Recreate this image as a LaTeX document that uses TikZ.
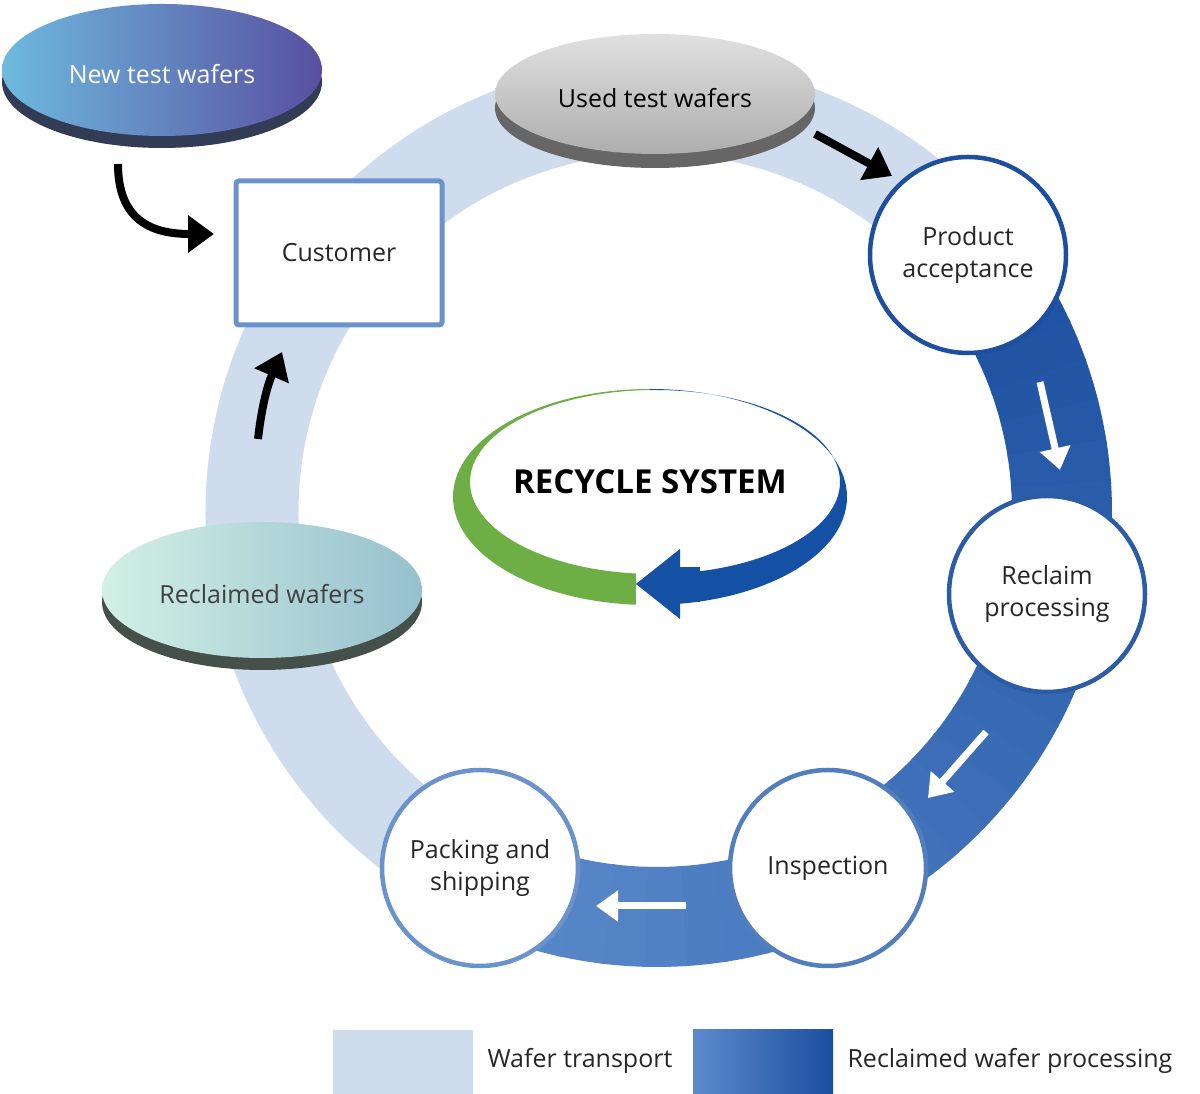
\documentclass[tikz,border=0pt]{standalone}
\usepackage{fontspec}
\setmainfont{Open Sans}
\usetikzlibrary{arrows.meta}
\definecolor{lightring}{HTML}{CFDCEE}
\definecolor{darkA}{HTML}{1A4FA0}
\definecolor{darkB}{HTML}{5C8ACB}
\definecolor{cborder}{HTML}{6A93CC}
\definecolor{pborder}{HTML}{1E4E9E}
\definecolor{rgreen}{HTML}{6DAE45}
\definecolor{rblue}{HTML}{1450A3}
\definecolor{nrim}{HTML}{333C55}
\definecolor{nA}{HTML}{6EB9DE}
\definecolor{nB}{HTML}{5850A0}
\definecolor{rrim}{HTML}{46504B}
\definecolor{rA}{HTML}{D2F0E4}
\definecolor{rB}{HTML}{96C0CE}
\tikzset{
  x=1pt,y=1pt,
  lbl/.style={font=\fontsize{25}{29}\selectfont, text=black!85, align=center},
  step/.style={circle, draw=#1, line width=4.5pt, fill=white, minimum size=196pt, lbl},
  blk/.style={line width=8pt, -{Triangle[length=26pt,width=36pt]}},
  wht/.style={line width=7pt, white, -{Triangle[length=22pt,width=30pt]}},
}
\begin{document}
\begin{tikzpicture}
\useasboundingbox (0,0) rectangle (1200,1094);
\coordinate (c) at (657,582);
% light ring
\draw[lightring, line width=93pt] (c) ++(39:405) arc[start angle=39, end angle=245, radius=405];
% dark ring gradient
\foreach \i in {0,...,29}{
  \pgfmathsetmacro{\aa}{41-\i*5.3}
  \pgfmathsetmacro{\ab}{\aa-5.8}
  \pgfmathsetmacro{\p}{100-\i*100/29}
  \draw[darkA!\p!darkB, line width=100pt] (c) ++(\aa:405) arc[start angle=\aa, end angle=\ab, radius=405];
}
% legend
\fill[lightring] (333,0) rectangle (473,64);
\shade[left color=darkB, right color=darkA] (693,0) rectangle (833,64);
\node[lbl, anchor=west] (lg1) at (484,33) {Wafer transport};
\node[lbl, anchor=west] (lg2) at (844,33) {Reclaimed wafer processing};
% customer
\node[draw=cborder, line width=5pt, fill=white, minimum width=206pt, minimum height=144pt, rounded corners=3pt, lbl] (cust) at (339,841) {Customer};
% circles
\node[step=pborder] (pa) at (968,839) {Product\\[3pt]acceptance};
\node[step=pborder!80!cborder] (rp) at (1047,500) {Reclaim\\[3pt]processing};
\node[step=cborder!70!pborder] (in) at (828,226) {Inspection};
\node[step=cborder] (ps) at (480,226) {Packing and\\[3pt]shipping};
% disks
\fill[black!60] (655,986) ellipse[x radius=160, y radius=60];
\shade[top color=black!12, bottom color=black!32] (655,1000) ellipse[x radius=160, y radius=60];
\node[lbl, text=black] (used) at (655,996) {Used test wafers};
\fill[nrim] (162,1012) ellipse[x radius=160, y radius=66];
\shade[shading angle=-30, left color=nA, right color=nB] (162,1024) ellipse[x radius=160, y radius=66];
\node[lbl, text=white] (newt) at (162,1020) {New test wafers};
\fill[rrim] (262,492) ellipse[x radius=160, y radius=68];
\shade[shading angle=-20, left color=rA, right color=rB] (262,504) ellipse[x radius=160, y radius=68];
\node[lbl, text=black!75] (recl) at (262,500) {Reclaimed wafers};
% recycle system emblem
\begin{scope}
\clip (400,300) rectangle (650,720);
\fill[rgreen, even odd rule] (650,597) ellipse[x radius=197, y radius=108] (655,612) ellipse[x radius=185, y radius=92];
\end{scope}
\begin{scope}
\clip (650,300) rectangle (900,720);
\fill[rblue, even odd rule] (650,597) ellipse[x radius=197, y radius=108] (655,612) ellipse[x radius=185, y radius=92];
\end{scope}
\fill[white] (636,480) rectangle (680,540);
\fill[rblue] (636,510) -- (680,545) -- (680,475) -- cycle;
\fill[rblue] (679,492) rectangle (700,527);
\node[font=\fontsize{33}{36}\selectfont\bfseries] (rs) at (650,612) {RECYCLE SYSTEM};
% black arrows
\coordinate (b1s) at (815,960); \coordinate (b1e) at (892,918);
\draw[blk] (b1s) -- (b1e);
\coordinate (b2s) at (118,930); \coordinate (b2e) at (214,860);
\draw[blk] (b2s) .. controls (118,875) and (150,860) .. (b2e);
\coordinate (b3s) at (258,655); \coordinate (b3e) at (282,742);
\draw[blk] (b3s) .. controls (262,690) and (268,710) .. (b3e);
% white arrows
\coordinate (w1s) at (1040,712); \coordinate (w1e) at (1060,624);
\draw[wht] (w1s) -- (w1e);
\coordinate (w2s) at (986,362); \coordinate (w2e) at (928,296);
\draw[wht] (w2s) -- (w2e);
\coordinate (w3s) at (686,188); \coordinate (w3e) at (596,188);
\draw[wht] (w3s) -- (w3e);
\end{tikzpicture}
\end{document}
